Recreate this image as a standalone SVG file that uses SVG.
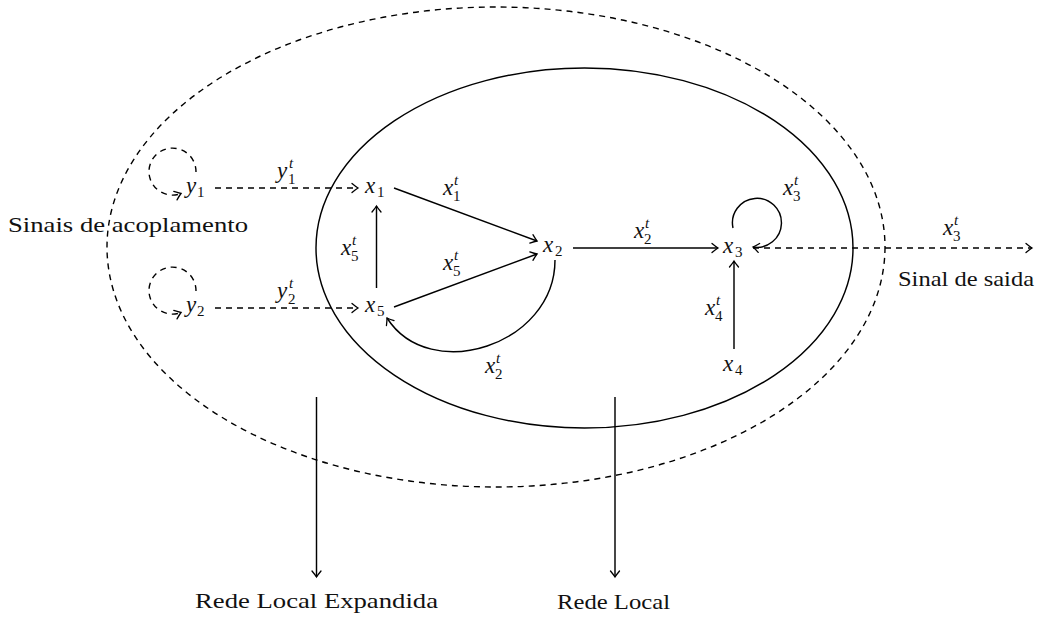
<svg xmlns="http://www.w3.org/2000/svg" width="1049" height="619" viewBox="0 0 1049 619">
<defs>
<marker id="arr" markerUnits="userSpaceOnUse" markerWidth="14" markerHeight="14" viewBox="-10 -7 14 14" refX="0" refY="0" orient="auto" overflow="visible">
<path d="M -6 -4.5 Q -2 -1.2 0 0 Q -2 1.2 -6 4.5" fill="none" stroke="#000" stroke-width="1.3" stroke-linecap="round"/>
</marker>
<style>
.ln{fill:none;stroke:#000;stroke-width:1.45}
.ds{fill:none;stroke:#000;stroke-width:1.4;stroke-dasharray:6 5}
.m{font-family:"Liberation Serif","DejaVu Serif",serif;font-style:italic;font-size:23px;fill:#111}
.s{font-family:"Liberation Serif","DejaVu Serif",serif;font-size:15px;fill:#111}
.si{font-family:"Liberation Serif","DejaVu Serif",serif;font-style:italic;font-size:15px;fill:#111}
.t{font-family:"Liberation Serif","DejaVu Serif",serif;font-size:21px;fill:#111}
</style>
</defs>
<rect width="1049" height="619" fill="#fff"/>
<g id="regions">
<ellipse id="outer" class="ds" cx="496" cy="247" rx="389" ry="240"/>
<ellipse id="inner" class="ln" cx="584.5" cy="248" rx="268.5" ry="180"/>
</g>
<g id="connectors">
<path class="ds" d="M 196 172 A 23.5 23.5 0 1 0 181 193.5" marker-end="url(#arr)"/>
<path class="ds" d="M 196 291 A 23.5 23.5 0 1 0 181 312.5" marker-end="url(#arr)"/>
<line class="ds" x1="215" y1="188" x2="358" y2="188" marker-end="url(#arr)"/>
<line class="ds" x1="215" y1="308" x2="358" y2="308" marker-end="url(#arr)"/>
<line class="ln" x1="376.5" y1="288" x2="376.5" y2="206" marker-end="url(#arr)"/>
<line class="ln" x1="394" y1="188" x2="537" y2="241" marker-end="url(#arr)"/>
<line class="ln" x1="394" y1="307" x2="537" y2="254" marker-end="url(#arr)"/>
<path class="ln" d="M 555 260 C 555 345 430 385 387 318" marker-end="url(#arr)"/>
<line class="ln" x1="573" y1="248" x2="718" y2="248" marker-end="url(#arr)"/>
<path class="ln" d="M 733 228 A 24.5 24.5 0 1 1 753 247" marker-end="url(#arr)"/>
<line class="ln" x1="734" y1="349" x2="734" y2="261" marker-end="url(#arr)"/>
<line class="ds" x1="753" y1="248" x2="1032" y2="248" marker-end="url(#arr)"/>
<line class="ln" x1="316.5" y1="397" x2="316.5" y2="577" marker-end="url(#arr)"/>
<line class="ln" x1="615" y1="397" x2="615" y2="577" marker-end="url(#arr)"/>
</g>
<g id="node-y1"><text class="m" x="186" y="193">y</text><text class="s" x="197" y="197">1</text></g>
<g id="node-y2"><text class="m" x="186" y="312">y</text><text class="s" x="197" y="316">2</text></g>
<g id="node-x1"><text class="m" x="365" y="193">x</text><text class="s" x="377" y="197">1</text></g>
<g id="node-x5"><text class="m" x="365" y="312">x</text><text class="s" x="377" y="316">5</text></g>
<g id="node-x2"><text class="m" x="543" y="252">x</text><text class="s" x="555" y="256">2</text></g>
<g id="node-x3"><text class="m" x="723" y="253">x</text><text class="s" x="735" y="257">3</text></g>
<g id="node-x4"><text class="m" x="723" y="371">x</text><text class="s" x="735" y="375">4</text></g>
<g id="labels">
<g><text class="m" x="277" y="178">y</text><text class="si" x="289" y="168">t</text><text class="s" x="288" y="184">1</text></g>
<g><text class="m" x="277" y="298">y</text><text class="si" x="289" y="288">t</text><text class="s" x="288" y="304">2</text></g>
<g><text class="m" x="443" y="195">x</text><text class="si" x="454" y="185">t</text><text class="s" x="453" y="201">1</text></g>
<g><text class="m" x="443" y="270">x</text><text class="si" x="454" y="260">t</text><text class="s" x="453" y="276">5</text></g>
<g><text class="m" x="341" y="255">x</text><text class="si" x="352" y="245">t</text><text class="s" x="351" y="261">5</text></g>
<g><text class="m" x="485" y="373">x</text><text class="si" x="496" y="363">t</text><text class="s" x="495" y="379">2</text></g>
<g><text class="m" x="634" y="238">x</text><text class="si" x="645" y="228">t</text><text class="s" x="644" y="244">2</text></g>
<g><text class="m" x="783" y="195">x</text><text class="si" x="794" y="185">t</text><text class="s" x="793" y="201">3</text></g>
<g><text class="m" x="943" y="235">x</text><text class="si" x="954" y="225">t</text><text class="s" x="953" y="241">3</text></g>
<g><text class="m" x="705" y="315">x</text><text class="si" x="716" y="305">t</text><text class="s" x="715" y="321">4</text></g>
<text class="t" x="8" y="232" textLength="240" lengthAdjust="spacingAndGlyphs">Sinais de acoplamento</text>
<text class="t" x="898" y="286" textLength="136" lengthAdjust="spacingAndGlyphs">Sinal de saida</text>
<text class="t" x="195" y="608" textLength="243" lengthAdjust="spacingAndGlyphs">Rede Local Expandida</text>
<text class="t" x="557" y="609" textLength="113" lengthAdjust="spacingAndGlyphs">Rede Local</text>
</g>
</svg>
